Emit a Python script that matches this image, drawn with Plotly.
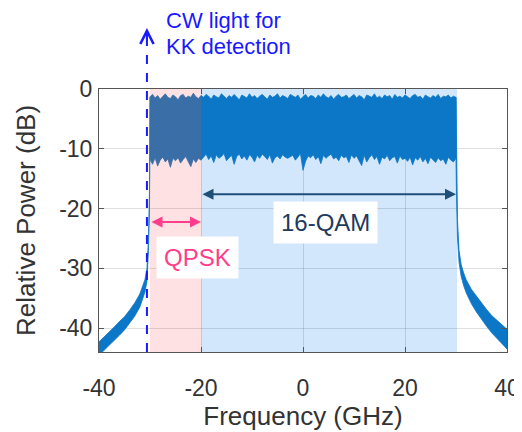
import numpy as np
import plotly.graph_objects as go

# ---------------- data ----------------
band_freq = np.linspace(-30, 30, 121)  # GHz, 0.5 GHz grid of the signal band

band_upper = [
    -1.3, -0.9, -1.5, -1.1, -1.7, -1.2, -0.8, -1.4, -1.6, -1.0,
    -1.3, -1.8, -1.1, -0.9, -1.5, -1.2, -1.4, -0.7, -1.3, -1.6,
    -1.1, -1.4, -0.9, -1.2, -1.7, -1.0, -1.3, -1.5, -0.8, -1.2,
    -1.6, -1.1, -1.4, -0.9, -1.3, -1.8, -1.0, -1.2, -1.5, -0.8,
    -1.4, -1.1, -1.6, -1.2, -0.9, -1.3, -1.7, -1.0, -1.4, -1.2,
    -0.8, -1.5, -1.1, -1.3, -1.6, -0.9, -1.2, -1.4, -1.0, -1.7,
    -1.3, -0.9, -1.5, -1.1, -1.2, -1.6, -1.0, -1.4, -0.8, -1.3,
    -1.5, -1.1, -1.7, -1.2, -0.9, -1.4, -1.3, -1.0, -1.6, -1.2,
    -0.9, -1.5, -1.1, -1.3, -1.8, -1.0, -1.2, -1.4, -0.8, -1.5,
    -1.2, -1.6, -1.0, -1.3, -1.1, -1.7, -0.9, -1.4, -1.2, -1.5,
    -1.0, -1.3, -1.6, -1.1, -0.9, -1.4, -1.2, -1.7, -1.0, -1.3,
    -1.5, -1.1, -1.4, -0.9, -1.6, -1.2, -1.3, -1.0, -1.5, -1.2,
    -1.4,
]

band_lower = [
    -11.8, -12.6, -11.5, -12.9, -11.9, -11.4, -12.2, -11.7, -13.1, -11.6,
    -12.0, -11.5, -12.4, -11.8, -11.3, -12.1, -13.0, -11.7, -12.3, -11.6,
    -11.9,
    -11.4, -10.9, -11.8, -11.2, -12.3, -11.0, -11.6, -11.3, -10.8, -12.0,
    -11.5, -11.1, -12.6, -11.3, -10.9, -11.7, -11.2, -11.9, -11.0, -11.4,
    -12.2, -11.1, -11.6, -10.9, -11.3, -11.8, -11.0, -12.4, -11.5, -11.2,
    -11.7, -11.0, -11.4, -11.6, -11.3, -11.1, -11.9, -11.4, -10.8, -13.6,
    -12.1, -11.2, -11.5, -11.0, -11.8, -11.3, -12.5, -11.1, -11.6, -11.2,
    -10.9, -11.7, -11.4, -12.0, -11.1, -11.5, -11.3, -12.3, -11.0, -11.6,
    -11.2, -11.9, -12.8, -11.1, -12.2, -11.5, -11.0, -11.8, -11.3, -12.6,
    -11.4, -11.7, -11.1, -12.0, -11.5, -11.3, -12.4, -11.2, -11.8, -11.6,
    -12.1, -11.4, -12.7, -11.5, -11.9, -11.3, -12.2, -11.6, -12.5, -11.4,
    -11.8, -12.3, -11.5, -12.0, -11.7, -12.6, -11.4, -11.9, -12.2, -11.6,
]

left_tail_freq = [-40, -39, -38, -37, -36, -35, -34, -33, -32, -31.5, -31, -30.6, -30.3, -30.1, -30]
left_tail_upper = [-42.3, -41.5, -40.6, -39.8, -38.9, -38.1, -37.0, -35.8, -34.3, -33.2, -31.9, -30.0, -25.0, -17.0, -1.3]
left_tail_lower = [-44.6, -43.7, -42.9, -42.0, -41.2, -40.3, -39.2, -38.0, -36.5, -35.4, -34.0, -32.2, -27.0, -20.0, -11.8]

right_tail_freq = [30, 30.1, 30.3, 30.6, 31, 31.5, 32, 33, 34, 35, 36, 37, 38, 39, 40]
right_tail_upper = [-1.4, -14.0, -22.0, -27.0, -29.3, -30.8, -31.9, -33.5, -34.7, -35.9, -36.9, -37.9, -38.7, -39.5, -40.2]
right_tail_lower = [-11.6, -18.0, -25.0, -29.0, -31.3, -32.9, -34.1, -35.9, -37.3, -38.6, -39.7, -40.8, -41.8, -42.6, -43.5]

qpsk_band = [-30, -20]
qam_band = [-20, 30.2]
cw_freq = -30.6

x_ticks = [-40, -20, 0, 20, 40]
x_tick_labels = ["-40", "-20", "0", "20", "40"]
y_ticks = [0, -10, -20, -30, -40]
y_tick_labels = ["0", "-10", "-20", "-30", "-40"]

# ---------------- styling ----------------
BLUE = "#0b77c6"
DARK = "#3a6ea6"
PINK_BG = "#fde1e3"
BLUE_BG = "#d2e7fb"
FONT = "Liberation Sans, Arial, sans-serif"
TXT = "#333333"

fig = go.Figure()


def band_polygon(xs, up, lo, color):
    xs = list(xs)
    fig.add_trace(go.Scatter(
        x=xs + xs[::-1], y=list(up) + list(lo)[::-1],
        fill="toself", fillcolor=color, mode="lines",
        line=dict(color=color, width=0.8), hoverinfo="skip", showlegend=False))


bf = np.asarray(band_freq)
bu = np.asarray(band_upper)
bl = np.asarray(band_lower)
q = (bf >= qpsk_band[0]) & (bf <= qpsk_band[1])
m = bf >= qpsk_band[1]

band_polygon(left_tail_freq, left_tail_upper, left_tail_lower, BLUE)
band_polygon(bf[m], bu[m], bl[m], BLUE)
band_polygon(right_tail_freq, right_tail_upper, right_tail_lower, BLUE)
band_polygon(bf[q], bu[q], bl[q], DARK)

# background shading
fig.add_shape(type="rect", xref="x", yref="paper", x0=qpsk_band[0], x1=qpsk_band[1],
              y0=0, y1=1, fillcolor=PINK_BG, line_width=0, layer="below")
fig.add_shape(type="rect", xref="x", yref="paper", x0=qam_band[0], x1=qam_band[1],
              y0=0, y1=1, fillcolor=BLUE_BG, line_width=0, layer="below")

# CW light dashed arrow
fig.add_shape(type="line", xref="x", yref="paper", x0=cw_freq, x1=cw_freq, y0=0, y1=1.225,
              line=dict(color="#1a1aff", width=2, dash="dash"))
fig.add_annotation(x=cw_freq, y=1.232, xref="x", yref="paper", ax=0, ay=14,
                   showarrow=True, arrowhead=5, arrowsize=1.3, arrowwidth=2,
                   arrowcolor="#1a1aff", text="")
fig.add_annotation(x=-27.2, y=1.262, xref="x", yref="paper", xanchor="left", yanchor="middle",
                   text="CW light for", showarrow=False,
                   font=dict(family=FONT, size=22, color="#1a1aff"))
fig.add_annotation(x=-27.2, y=1.160, xref="x", yref="paper", xanchor="left", yanchor="middle",
                   text="KK detection", showarrow=False,
                   font=dict(family=FONT, size=22, color="#1a1aff"))

# band arrows
fig.add_annotation(x=qpsk_band[1], y=-22.25, ax=qpsk_band[0], ay=-22.25, xref="x", yref="y",
                   axref="x", ayref="y", showarrow=True, arrowside="end+start",
                   arrowhead=2, arrowsize=1.1, arrowwidth=2, arrowcolor="#ff3d8b", text="")
fig.add_annotation(x=qam_band[1] - 0.2, y=-17.6, ax=qam_band[0], ay=-17.6, xref="x", yref="y",
                   axref="x", ayref="y", showarrow=True, arrowside="end+start",
                   arrowhead=2, arrowsize=1.1, arrowwidth=2, arrowcolor="#1f4e79", text="")

# labels
fig.add_annotation(x=-20.6, y=-28.2, text="QPSK", showarrow=False, bgcolor="white",
                   borderpad=7, font=dict(family=FONT, size=24, color="#ff3d8b"))
fig.add_annotation(x=4.4, y=-22.3, text="16-QAM", showarrow=False, bgcolor="white",
                   borderpad=7, font=dict(family=FONT, size=24, color="#1f3a5f"))

axis_common = dict(
    showline=True, linecolor="#555555", linewidth=1, mirror="ticks",
    ticks="inside", ticklen=5, tickcolor="#555555",
    showgrid=True, gridcolor="rgba(0,0,0,0.12)", gridwidth=1, zeroline=False,
    tickfont=dict(family=FONT, size=23, color=TXT), automargin=False,
)

fig.update_xaxes(range=[-40, 40], tickvals=x_ticks, ticktext=x_tick_labels, ticklabelstandoff=15,
                 title=dict(text="Frequency (GHz)", font=dict(family=FONT, size=26, color=TXT),
                            standoff=2),
                 **axis_common)
fig.update_yaxes(range=[-44, 0], tickvals=y_ticks, ticktext=y_tick_labels, ticklabelstandoff=1,
                 title=dict(text="Relative Power (dB)", font=dict(family=FONT, size=26, color=TXT),
                            standoff=16),
                 **axis_common)

# the page body adds an 8 px offset, so the figure is 8 px smaller and margins shifted
fig.update_layout(
    width=514, height=424,
    margin=dict(l=91, r=15, t=81, b=80),
    plot_bgcolor="white", paper_bgcolor="white",
    showlegend=False,
)

fig.write_html("out.html")
